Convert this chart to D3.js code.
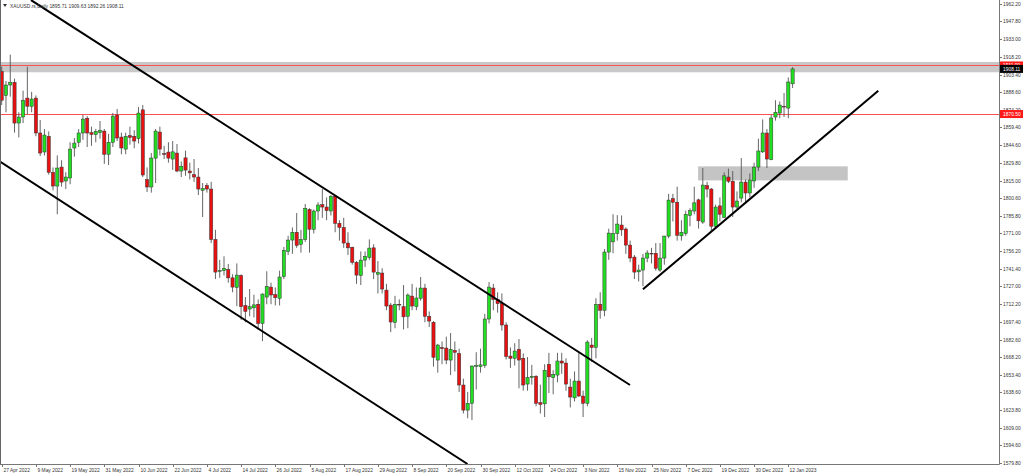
<!DOCTYPE html>
<html><head><meta charset="utf-8">
<script src="https://cdn.jsdelivr.net/npm/d3@7"></script>
<style>body{margin:0;background:#fff;overflow:hidden}svg{display:block}text{font-family:"Liberation Sans",Arial,sans-serif}</style>
</head><body>
<script>
const symbolTitle = "XAUUSD.rs,Daily";
const lastOHLC = ["1895.71","1909.63","1892.26","1908.11"];
const open=[1906,1886,1894.7,1897,1863,1868,1883.8,1877,1883.8,1854.7,
1838.9,1852,1822,1810.5,1826.3,1814.7,1817.2,1842.2,1847,1854.7,
1867,1855,1853.5,1855,1856.3,1837,1847,1869.7,1851.3,1841.3,
1852.5,1852,1850,1874,1816,1809.7,1833.8,1855.5,1837.5,1838.8,
1833,1838,1823,1834,1823,1820,1818,1807,1811,1808,
1766,1739.5,1740,1741,1734,1726,1736,1711,1708,1709,
1712,1696,1718,1726.3,1720,1717,1735,1756,1765.5,1772,
1762,1766,1791,1774.5,1789.7,1795,1793,1789.7,1802,1779.5,
1776,1763,1759.5,1747,1736,1748.8,1751,1759,1737,1738,
1723.8,1711.3,1697,1712,1710,1702,1718.8,1710,1717,1725.5,
1702,1697,1665.5,1676,1675.5,1665.5,1673.5,1671,1644.7,1623.8,
1629.5,1660.5,1660,1661,1699.7,1725.5,1716,1712.5,1694.7,1668.8,
1667,1674.5,1667,1645.5,1651,1652,1630,1629,1662,1651,
1653,1664.7,1663,1643,1634,1648,1635.5,1629.5,1678,1676,
1712,1707,1755.5,1764,1771,1778,1774.7,1761.3,1751.3,1739,
1740.5,1750.5,1754.5,1754.5,1740.5,1750.5,1768.8,1800,1797,1769,
1771,1786,1789.7,1799,1780.5,1811,1808,1777,1794,1784.5,
1818,1814.5,1793,1800.5,1813.8,1804.7,1814.7,1826.3,1839,1854.7,
1832.5,1868,1871.3,1877,1875.5,1895.71];
const high=[1910,1898,1920,1900,1872,1890,1910,1889,1886,1865.5,
1858,1856,1826,1836,1832,1822,1847,1850.5,1858,1869.7,
1868.8,1860,1858,1864.7,1858,1854,1871.4,1874.7,1855,1855,
1860,1857,1876.3,1878,1826,1838,1858,1860,1844,1847,
1848,1845.5,1831,1840,1830,1833,1825.5,1813,1813,1814,
1774,1749,1752,1745.5,1737,1746,1737,1718,1724.7,1720,
1716,1721,1739.5,1730,1726,1740,1759.7,1769,1776,1788,
1774,1795.5,1792,1791,1797,1808,1801,1803,1803,1782,
1784,1772,1760,1748,1756,1756,1766,1762,1748,1742,
1729,1713,1719,1716,1728,1721,1729,1726,1734.7,1729,
1706,1698,1679,1681,1685,1688,1681,1675,1650,1639,
1661,1672,1675,1704,1730.5,1729,1722,1721,1697,1676,
1679.5,1683,1671,1668,1661.5,1653,1645,1662,1671.5,1657,
1671.5,1671.5,1667,1650,1656,1671.5,1640,1682,1684,1717,
1722,1758,1775,1787,1786.3,1786,1776,1765,1753,1745,
1754,1757,1759,1763,1763,1769,1804,1804,1810,1782,
1790,1792,1810,1800,1825.5,1814,1809,1795,1801,1822,
1825,1823,1806,1833.8,1816,1821,1830,1850,1866,1858,
1870,1882,1881,1888,1901,1909.63];
const low=[1878,1872,1885,1855,1851,1863,1870,1872,1852,1835.5,
1836,1820,1807,1787,1810,1808,1812,1835,1843,1849,
1843,1844,1847,1850,1829,1828,1843,1848,1837,1837,
1845,1842,1846,1818,1805.5,1805,1813,1836,1833,1830,
1824,1822,1818,1819,1816,1814,1803,1784.7,1805,1763,
1733,1734,1736,1730,1722,1710.5,1699,1697,1702,1701,
1691,1681.3,1712,1712,1711,1711,1733,1753,1754,1759,
1755,1764,1755,1771,1782,1784,1782,1786,1772,1765,
1759,1753,1745,1729,1728,1743,1749,1733,1721,1721,
1707,1688.8,1692,1707,1691,1692,1707,1707,1715,1697,
1693,1660,1655,1662,1662,1653,1656,1639,1621,1617,
1615.5,1641,1655,1659,1696,1707,1705,1690,1666,1659,
1661,1642,1640,1640,1645,1627,1621,1618,1638,1637,
1647,1654,1640,1626,1631,1635,1618,1627,1664,1667,
1700,1702,1749,1754.5,1765,1769,1754,1747,1733,1731,
1727,1747,1746,1740,1739,1745,1767,1781,1765,1765,
1769,1777,1787,1775,1779,1801,1773,1776,1781,1784,
1813,1784.7,1791,1797,1796,1801,1809,1823,1838,1825.5,
1832,1865,1867,1868,1867,1892.26];
const close=[1882,1894.7,1897,1863,1868,1882,1877,1883,1854.7,1838,
1853,1822,1810.5,1825.5,1813.8,1818,1841.3,1846.3,1854.7,1866.3,
1854.7,1853.5,1856,1857,1837,1847,1868.8,1850.5,1842.2,1852,
1851,1848,1871.3,1819.7,1809.7,1833.8,1856.3,1841.3,1837,1833.8,
1839,1823,1827,1823.8,1821.5,1818,1808,1808.5,1808,1766,
1738.8,1740,1742,1734,1726.3,1736.3,1710,1706,1710,1711.5,
1696,1720.5,1727,1719.7,1717.5,1734.7,1757,1765.5,1772,1761,
1766,1792,1774.5,1789.7,1794.7,1793,1790,1802,1779.5,1776,
1763,1759,1747,1736.3,1748.8,1752,1758.8,1738.8,1738.5,1724.7,
1710.5,1697.2,1712,1711.5,1701.5,1719.7,1710.5,1717.2,1725.5,1702,
1698,1667.8,1678,1675,1665.5,1674.5,1672,1644.7,1623.8,1629.5,
1660.5,1661,1661.5,1699.7,1726.3,1716,1712.5,1694.7,1668.5,1667,
1673,1665.5,1644.7,1651,1652,1629.5,1628.5,1657,1651.5,1653.5,
1664.7,1663,1645.5,1634.7,1648,1635.5,1629.5,1680.5,1676,1712,
1707,1755.5,1771.3,1771,1778.8,1774,1761.3,1750.5,1738.8,1740.5,
1750.5,1754.7,1754,1742,1750.5,1768.8,1798.8,1797,1769.5,1772,
1787,1790,1796.5,1781.5,1811.3,1808,1777,1793,1787,1819,
1814.5,1793,1798,1813.8,1804.7,1815.5,1826.3,1839.7,1854.7,1833,
1867.2,1872,1878,1876.3,1897.2,1908.11];
const tickLabels=["27 Apr 2022","9 May 2022","19 May 2022","31 May 2022","10 Jun 2022","22 Jun 2022","4 Jul 2022","14 Jul 2022","26 Jul 2022","5 Aug 2022","17 Aug 2022","29 Aug 2022","8 Sep 2022","20 Sep 2022","30 Sep 2022","12 Oct 2022","24 Oct 2022","3 Nov 2022","15 Nov 2022","25 Nov 2022","7 Dec 2022","19 Dec 2022","30 Dec 2022","12 Jan 2023"];
const tickStep = 8;
const priceTicks=[1962.20,1947.80,1933.00,1918.20,1903.40,1888.60,1874.20,1859.40,1844.60,1829.80,1815.00,1800.60,1785.80,1771.00,1756.20,1741.40,1727.00,1712.20,1697.40,1682.60,1668.20,1653.40,1638.60,1623.80,1609.00,1594.60,1579.80];
const hLines=[1911.0,1870.5];
const hLineLabels=["1911.00","1870.50"];
const zoneTop=[1913.9,1905.3];          // full-width zone [top,bottom]
const zoneBox={i0:162.9,i1:197.9,p0:1826.9,p1:1815.2};
const trendA=[[6.85,1965.5],[146.97,1644.7]];
const trendB=[[-0.4,1830.9],[108.96,1578.9]];
const trendC=[[150.0,1724.45],[205.05,1889.95]];

const W=1024,H=475, plotR=999, plotB=464;
const svg=d3.select("body").append("svg").attr("width",W).attr("height",H);
const x=d3.scaleLinear().domain([0,233.05]).range([1.7,998]);
const y=d3.scaleLinear().domain([1579.8,1962.2]).range([462.9,4]);

svg.append("defs").append("clipPath").attr("id","clip").append("rect").attr("x",0).attr("y",0).attr("width",plotR).attr("height",plotB);
const g=svg.append("g").attr("clip-path","url(#clip)");

// zones
g.append("rect").attr("x",0).attr("width",plotR).attr("y",y(zoneTop[0])).attr("height",y(zoneTop[1])-y(zoneTop[0])).attr("fill","#c8c8c8");
g.append("rect").attr("x",x(zoneBox.i0)).attr("width",x(zoneBox.i1)-x(zoneBox.i0)).attr("y",y(zoneBox.p0)).attr("height",y(zoneBox.p1)-y(zoneBox.p0)).attr("fill","#c4c4c4");
// horizontal lines
hLines.forEach(p=>g.append("line").attr("x1",0).attr("x2",plotR).attr("y1",Math.round(y(p))+0.5).attr("y2",Math.round(y(p))+0.5).attr("stroke","#ff5050").attr("stroke-width",1));

// candles
const idx=d3.range(open.length);
const cg=g.append("g");
cg.selectAll("line.w").data(idx).join("line").attr("class","w")
 .attr("x1",i=>x(i)).attr("x2",i=>x(i)).attr("y1",i=>y(high[i])).attr("y2",i=>y(low[i]))
 .attr("stroke","#555").attr("stroke-width",0.9);
cg.selectAll("rect.b").data(idx).join("rect").attr("class","b")
 .attr("x",i=>x(i)-1.6).attr("width",3.2)
 .attr("y",i=>y(Math.max(open[i],close[i])))
 .attr("height",i=>Math.max(0.8,Math.abs(y(open[i])-y(close[i]))))
 .attr("fill",i=>close[i]>=open[i]?"#22dd22":"#e81010")
 .attr("stroke","#333").attr("stroke-width",0.5);

// trend lines
[trendA,trendB,trendC].forEach(t=>g.append("line").attr("x1",x(t[0][0])).attr("y1",y(t[0][1])).attr("x2",x(t[1][0])).attr("y2",y(t[1][1])).attr("stroke","#000").attr("stroke-width",2));

// frame / axes
svg.append("line").attr("x1",0.5).attr("x2",0.5).attr("y1",0).attr("y2",plotB).attr("stroke","#666");
svg.append("line").attr("x1",plotR+0.5).attr("x2",plotR+0.5).attr("y1",0).attr("y2",plotB+0.5).attr("stroke","#777");
svg.append("line").attr("x1",0).attr("x2",plotR+0.5).attr("y1",plotB+0.5).attr("y2",plotB+0.5).attr("stroke","#777");

// right axis
const ra=svg.append("g");
priceTicks.forEach(p=>{
  const yy=Math.round(y(p))+0.5;
  ra.append("line").attr("x1",plotR).attr("x2",plotR+3).attr("y1",yy).attr("y2",yy).attr("stroke","#777");
  ra.append("text").attr("x",plotR+4).attr("y",yy).attr("dy","0.35em").attr("font-size",4.9).attr("fill","#333").text(p.toFixed(2));
});
// bottom axis
tickLabels.forEach((t,k)=>{
  const xx=Math.round(x(k*tickStep))+0.5;
  svg.append("line").attr("x1",xx).attr("x2",xx).attr("y1",plotB).attr("y2",plotB+3).attr("stroke","#777");
  svg.append("text").attr("x",xx+1).attr("y",471.5).attr("font-size",4.9).attr("fill","#333").text(t);
});
// price labels
function tag(p,txt,bg){
  const yy=y(p);
  svg.append("rect").attr("x",plotR+1).attr("y",yy-4).attr("width",23).attr("height",8).attr("fill",bg);
  svg.append("text").attr("x",plotR+4).attr("y",yy).attr("dy","0.35em").attr("font-size",4.9).attr("fill","#fff").text(txt);
}
tag(hLines[0],hLineLabels[0],"#ff1a1a");
tag(close[close.length-1],lastOHLC[3],"#000");
tag(hLines[1],hLineLabels[1],"#ff1a1a");

// title
svg.append("path").attr("d","M3,4 L7,4 L5,7 Z").attr("fill","#333");
svg.append("text").attr("x",10).attr("y",7.5).attr("font-size",4.9).attr("fill","#333").text(symbolTitle+"  "+lastOHLC.join(" "));
</script>
</body></html>
